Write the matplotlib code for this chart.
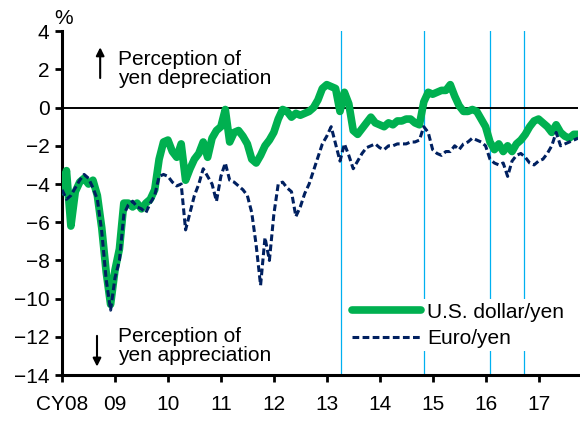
import numpy as np
import matplotlib
matplotlib.use("Agg")
import matplotlib.pyplot as plt

# monthly readings, Jan 2008 .. Oct 2017 (% deviation)
usd_yen = [
    # 2008
    -4.4, -3.3, -6.2, -4.4, -3.9, -3.7, -4.0, -3.8, -4.6, -6.3, -8.6, -10.3,
    # 2009
    -8.5, -7.4, -5.0, -5.0, -5.2, -5.0, -5.3, -5.0, -4.8, -4.3, -2.7, -1.8,
    # 2010
    -1.7, -2.3, -2.6, -1.9, -3.8, -3.2, -2.7, -2.4, -1.8, -2.6, -1.6, -1.2,
    # 2011
    -1.0, -0.1, -1.8, -1.3, -1.2, -1.5, -1.9, -2.7, -2.9, -2.5, -2.0, -1.7,
    # 2012
    -1.3, -0.6, -0.1, -0.2, -0.5, -0.3, -0.4, -0.3, -0.2, 0.0, 0.4, 1.0,
    # 2013
    1.2, 1.1, 1.0, -0.2, 0.8, 0.2, -1.2, -1.4, -1.1, -0.8, -0.5, -0.8,
    # 2014
    -0.9, -1.0, -0.8, -0.9, -0.7, -0.7, -0.6, -0.6, -0.8, -0.9, 0.3, 0.8,
    # 2015
    0.7, 0.8, 0.9, 0.9, 1.2, 0.6, 0.1, -0.2, -0.2, -0.1, -0.2, -0.6,
    # 2016
    -1.0, -1.8, -2.2, -1.9, -2.3, -2.0, -2.3, -1.9, -1.7, -1.4, -1.0, -0.7,
    # 2017
    -0.6, -0.8, -1.0, -1.3, -0.9, -1.3, -1.5, -1.6, -1.4, -1.4,
]
euro_yen = [
    # 2008
    -4.3, -4.8, -4.6, -4.2, -3.8, -3.5, -3.7, -4.2, -4.8, -6.5, -9.0, -10.6,
    # 2009
    -8.9, -8.0, -5.6, -5.1, -4.9, -5.2, -5.3, -5.5, -5.0, -4.6, -3.6, -3.5,
    # 2010
    -3.6, -3.9, -4.1, -4.0, -6.4, -5.5, -4.6, -4.0, -3.2, -3.6, -4.0, -4.9,
    # 2011
    -3.6, -2.9, -3.8, -3.9, -4.1, -4.3, -4.6, -5.5, -7.2, -9.3, -6.8, -8.0,
    # 2012
    -5.6, -4.0, -3.9, -4.2, -4.4, -5.7, -5.2, -4.5, -4.0, -3.3, -2.6, -1.9,
    # 2013
    -1.5, -1.0, -1.9, -2.8, -1.9, -2.5, -3.2, -2.8, -2.4, -2.1, -2.0, -1.9,
    # 2014
    -2.1, -2.2, -2.0, -2.0, -1.9, -1.9, -1.9, -1.8, -1.8, -1.7, -1.0, -1.3,
    # 2015
    -2.2, -2.4, -2.5, -2.3, -2.3, -2.0, -2.2, -1.9, -1.8, -1.6, -1.7, -1.8,
    # 2016
    -2.0, -2.7, -2.9, -3.0, -2.9, -3.6, -2.8, -2.5, -2.4, -2.6, -2.9, -3.0,
    # 2017
    -2.8, -2.7, -2.4, -2.0, -1.3, -2.0, -1.9, -1.8, -1.7, -1.6,
]
# BOJ policy events (decimal years)
events = [2013.26, 2014.83, 2016.08, 2016.72]
year_ticks = list(range(2008, 2018))
year_labels = ["CY08", "09", "10", "11", "12", "13", "14", "15", "16", "17"]

plt.rcParams["font.family"] = ["Liberation Sans", "DejaVu Sans"]

dates = 2008 + np.arange(len(usd_yen)) / 12.0

fig = plt.figure(figsize=(5.8, 4.21), dpi=100)
ax = fig.add_axes([0.107, 0.109, 0.889, 0.817])

for ev in events:
    ax.axvline(ev, color="#00B0F0", lw=0.9, zorder=1)
ax.axhline(0, color="black", lw=1.4, zorder=2)

ax.plot(dates, usd_yen, color="#00B050", lw=5.5, solid_capstyle="round",
        solid_joinstyle="round", label="U.S. dollar/yen", zorder=3)
ax.plot(dates, euro_yen, color="#002060", lw=2.2, ls=(0, (2.2, 1.1)),
        label="Euro/yen", zorder=4)

ax.set_xlim(2008, 2017.74)
ax.set_ylim(-14, 4)
ax.set_yticks(range(-14, 5, 2))
ax.set_xticks(year_ticks)
ax.set_xticklabels(year_labels)
ax.tick_params(labelsize=15, width=2, length=5, direction="out")
ax.tick_params(axis="x", pad=9)
ax.tick_params(axis="y", pad=4)
for side in ("top", "right"):
    ax.spines[side].set_visible(False)
for side in ("left", "bottom"):
    ax.spines[side].set_linewidth(2.2)

ax.text(-0.015, 1.01, "%", transform=ax.transAxes, fontsize=15, ha="left", va="bottom")

ax.text(2009.05, 2.0, "Perception of\nyen depreciation", fontsize=15,
        va="center", ha="left", linespacing=1.0)
ax.annotate("", xy=(2008.72, 3.3), xytext=(2008.72, 1.4),
            arrowprops=dict(arrowstyle="-|>", color="black", lw=1.5, mutation_scale=12))
ax.text(2009.05, -12.5, "Perception of\nyen appreciation", fontsize=15,
        va="center", ha="left", linespacing=1.0)
ax.annotate("", xy=(2008.66, -13.7), xytext=(2008.66, -11.8),
            arrowprops=dict(arrowstyle="-|>", color="black", lw=1.5, mutation_scale=12))

leg = ax.legend(loc="lower left", bbox_to_anchor=(0.537, 0.04), fontsize=15,
                frameon=True, facecolor="white", edgecolor="none", framealpha=1,
                handlelength=3.3, handletextpad=0.3, borderpad=0.15, labelspacing=0.35)
leg.set_zorder(5)

fig.savefig("out.png", dpi=100)
